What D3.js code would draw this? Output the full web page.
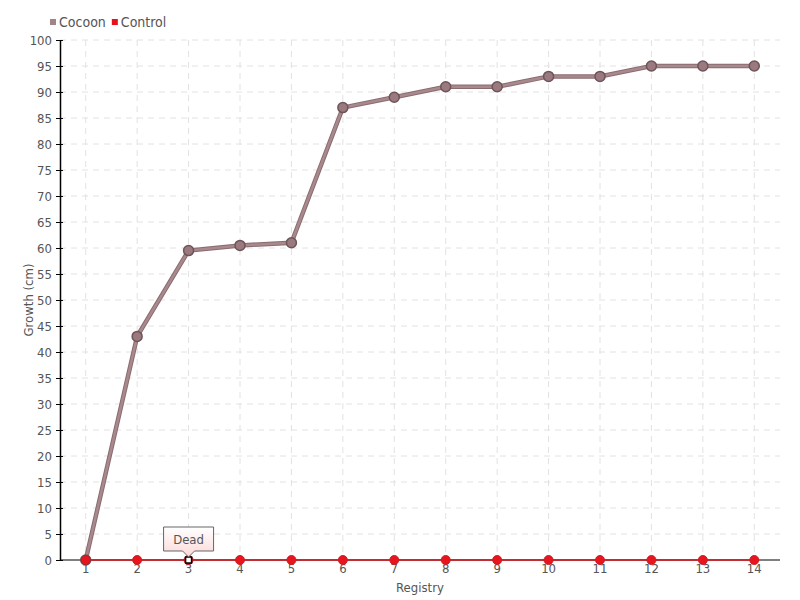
<!DOCTYPE html>
<html><head><meta charset="utf-8">
<script src="https://cdn.jsdelivr.net/npm/d3@7"></script>
<style>
body{margin:0;background:#fff;}
text{font-family:"DejaVu Sans Condensed","Liberation Sans Narrow",sans-serif;fill:#555;}
</style></head>
<body><svg id="c" width="800" height="600"></svg>
<script>
const categories = ["1","2","3","4","5","6","7","8","9","10","11","12","13","14"];
const cocoon = [0,43,59.5,60.5,61,87,89,91,91,93,93,95,95,95];
const control = [0,0,0,0,0,0,0,0,0,0,0,0,0,0];
const yTicks = d3.range(0,101,5);
const seriesNames = ["Cocoon","Control"];
const seriesColors = ["#a08488","#e8101a"];
const annotation = {index:2, label:"Dead"};

const svg = d3.select("#c");
const m = {l:60,r:20,t:40,b:40};
const W=800,H=600;
const x = d3.scaleBand().domain(categories).range([m.l,W-m.r]);
const cx = d => x(d)+x.bandwidth()/2;
const y = d3.scaleLinear().domain([0,100]).range([H-m.b,m.t]);

// grid
const g = svg.append("g");
g.selectAll(".hg").data(yTicks.slice(1)).join("line")
 .attr("x1",m.l).attr("x2",W-m.r).attr("y1",d=>y(d)).attr("y2",d=>y(d))
 .attr("stroke","#e2e2e2").attr("stroke-dasharray","6,5");
g.selectAll(".vg").data(categories).join("line")
 .attr("x1",d=>cx(d)).attr("x2",d=>cx(d)).attr("y1",m.t).attr("y2",H-m.b)
 .attr("stroke","#e2e2e2").attr("stroke-dasharray","6,5");

// axes
const ya = svg.append("g").attr("transform",`translate(${m.l},0)`)
 .call(d3.axisLeft(y).tickValues(yTicks).tickSizeInner(4).tickSizeOuter(0).tickPadding(4));
ya.selectAll(".tick line").attr("x2",3).attr("x1",-4).attr("stroke","#000");
ya.select(".domain").attr("stroke","#000").attr("stroke-width",1.5);
ya.selectAll("text").style("font-size","13px").attr("fill","#555");
const xa = svg.append("g").attr("transform",`translate(0,${H-m.b})`)
 .call(d3.axisBottom(x).tickSize(0).tickPadding(4));
xa.select(".domain").attr("stroke","#000").attr("d",`M${m.l},0H${W-m.r}`);
xa.selectAll("text").style("font-size","13px").attr("fill","#555");

svg.append("text").attr("x",(m.l+W-m.r)/2).attr("y",592).attr("text-anchor","middle")
 .style("font-size","13px").text("Registry");
svg.append("text").attr("transform","translate(33,300) rotate(-90)").attr("text-anchor","middle")
 .style("font-size","13px").text("Growth (cm)");

// lines
const line = d3.line().x((d,i)=>cx(categories[i])).y(d=>y(d));
svg.append("path").datum(cocoon).attr("d",line).attr("fill","none")
 .attr("stroke","#8a6c70").attr("stroke-width",4.5);
svg.append("path").datum(cocoon).attr("d",line).attr("fill","none")
 .attr("stroke","#a8898d").attr("stroke-width",2.5);
svg.append("path").datum(control).attr("d",line).attr("fill","none")
 .attr("stroke","#d8101a").attr("stroke-width",1.5);

svg.selectAll(".pc").data(control).join("circle")
 .attr("cx",(d,i)=>cx(categories[i])).attr("cy",d=>y(d)).attr("r",4.5)
 .attr("fill","#e8141e").attr("stroke","#c82028").attr("stroke-width",1);
svg.selectAll(".pk").data(cocoon).join("circle")
 .attr("cx",(d,i)=>cx(categories[i])).attr("cy",d=>y(d)).attr("r",5)
 .attr("fill","#9a7a7e").attr("stroke","#6e5458").attr("stroke-width",1.5);
// first point red over cocoon
svg.append("circle").attr("cx",cx(categories[0])).attr("cy",y(control[0])).attr("r",4.5)
 .attr("fill","#e8141e").attr("stroke","#b02028");

// annotation
const ax = cx(categories[annotation.index]), ay = y(control[annotation.index]);
svg.append("rect").attr("x",ax-3).attr("y",ay-3).attr("width",6).attr("height",6)
 .attr("fill","#fff").attr("stroke","#000").attr("stroke-width",1.5);
const defs = svg.append("defs");
const gr = defs.append("linearGradient").attr("id","tg").attr("x1",0).attr("x2",0).attr("y1",0).attr("y2",1);
gr.append("stop").attr("offset","0").attr("stop-color","#ffffff");
gr.append("stop").attr("offset","1").attr("stop-color","#fcd8d8");
const bx=ax-25,by=ay-33,bw=50,bh=24;
svg.append("path").attr("d",`M${bx},${by}H${bx+bw}V${by+bh}H${ax+6}L${ax},${by+bh+6}L${ax-6},${by+bh}H${bx}Z`)
 .attr("fill","url(#tg)").attr("stroke","#666").attr("stroke-width",1);
svg.append("text").attr("x",ax).attr("y",by+17).attr("text-anchor","middle")
 .style("font-size","13px").text(annotation.label);

// legend
const lg = svg.append("g").attr("transform","translate(50,22)");
let lx=0;
seriesNames.forEach((n,i)=>{
  lg.append("rect").attr("x",lx).attr("y",-3).attr("width",6).attr("height",6).attr("fill",seriesColors[i]);
  const t=lg.append("text").attr("x",lx+9).attr("y",5).style("font-size","14px").text(n);
  lx += 9 + t.node().getComputedTextLength()+6;
});
</script></body></html>
